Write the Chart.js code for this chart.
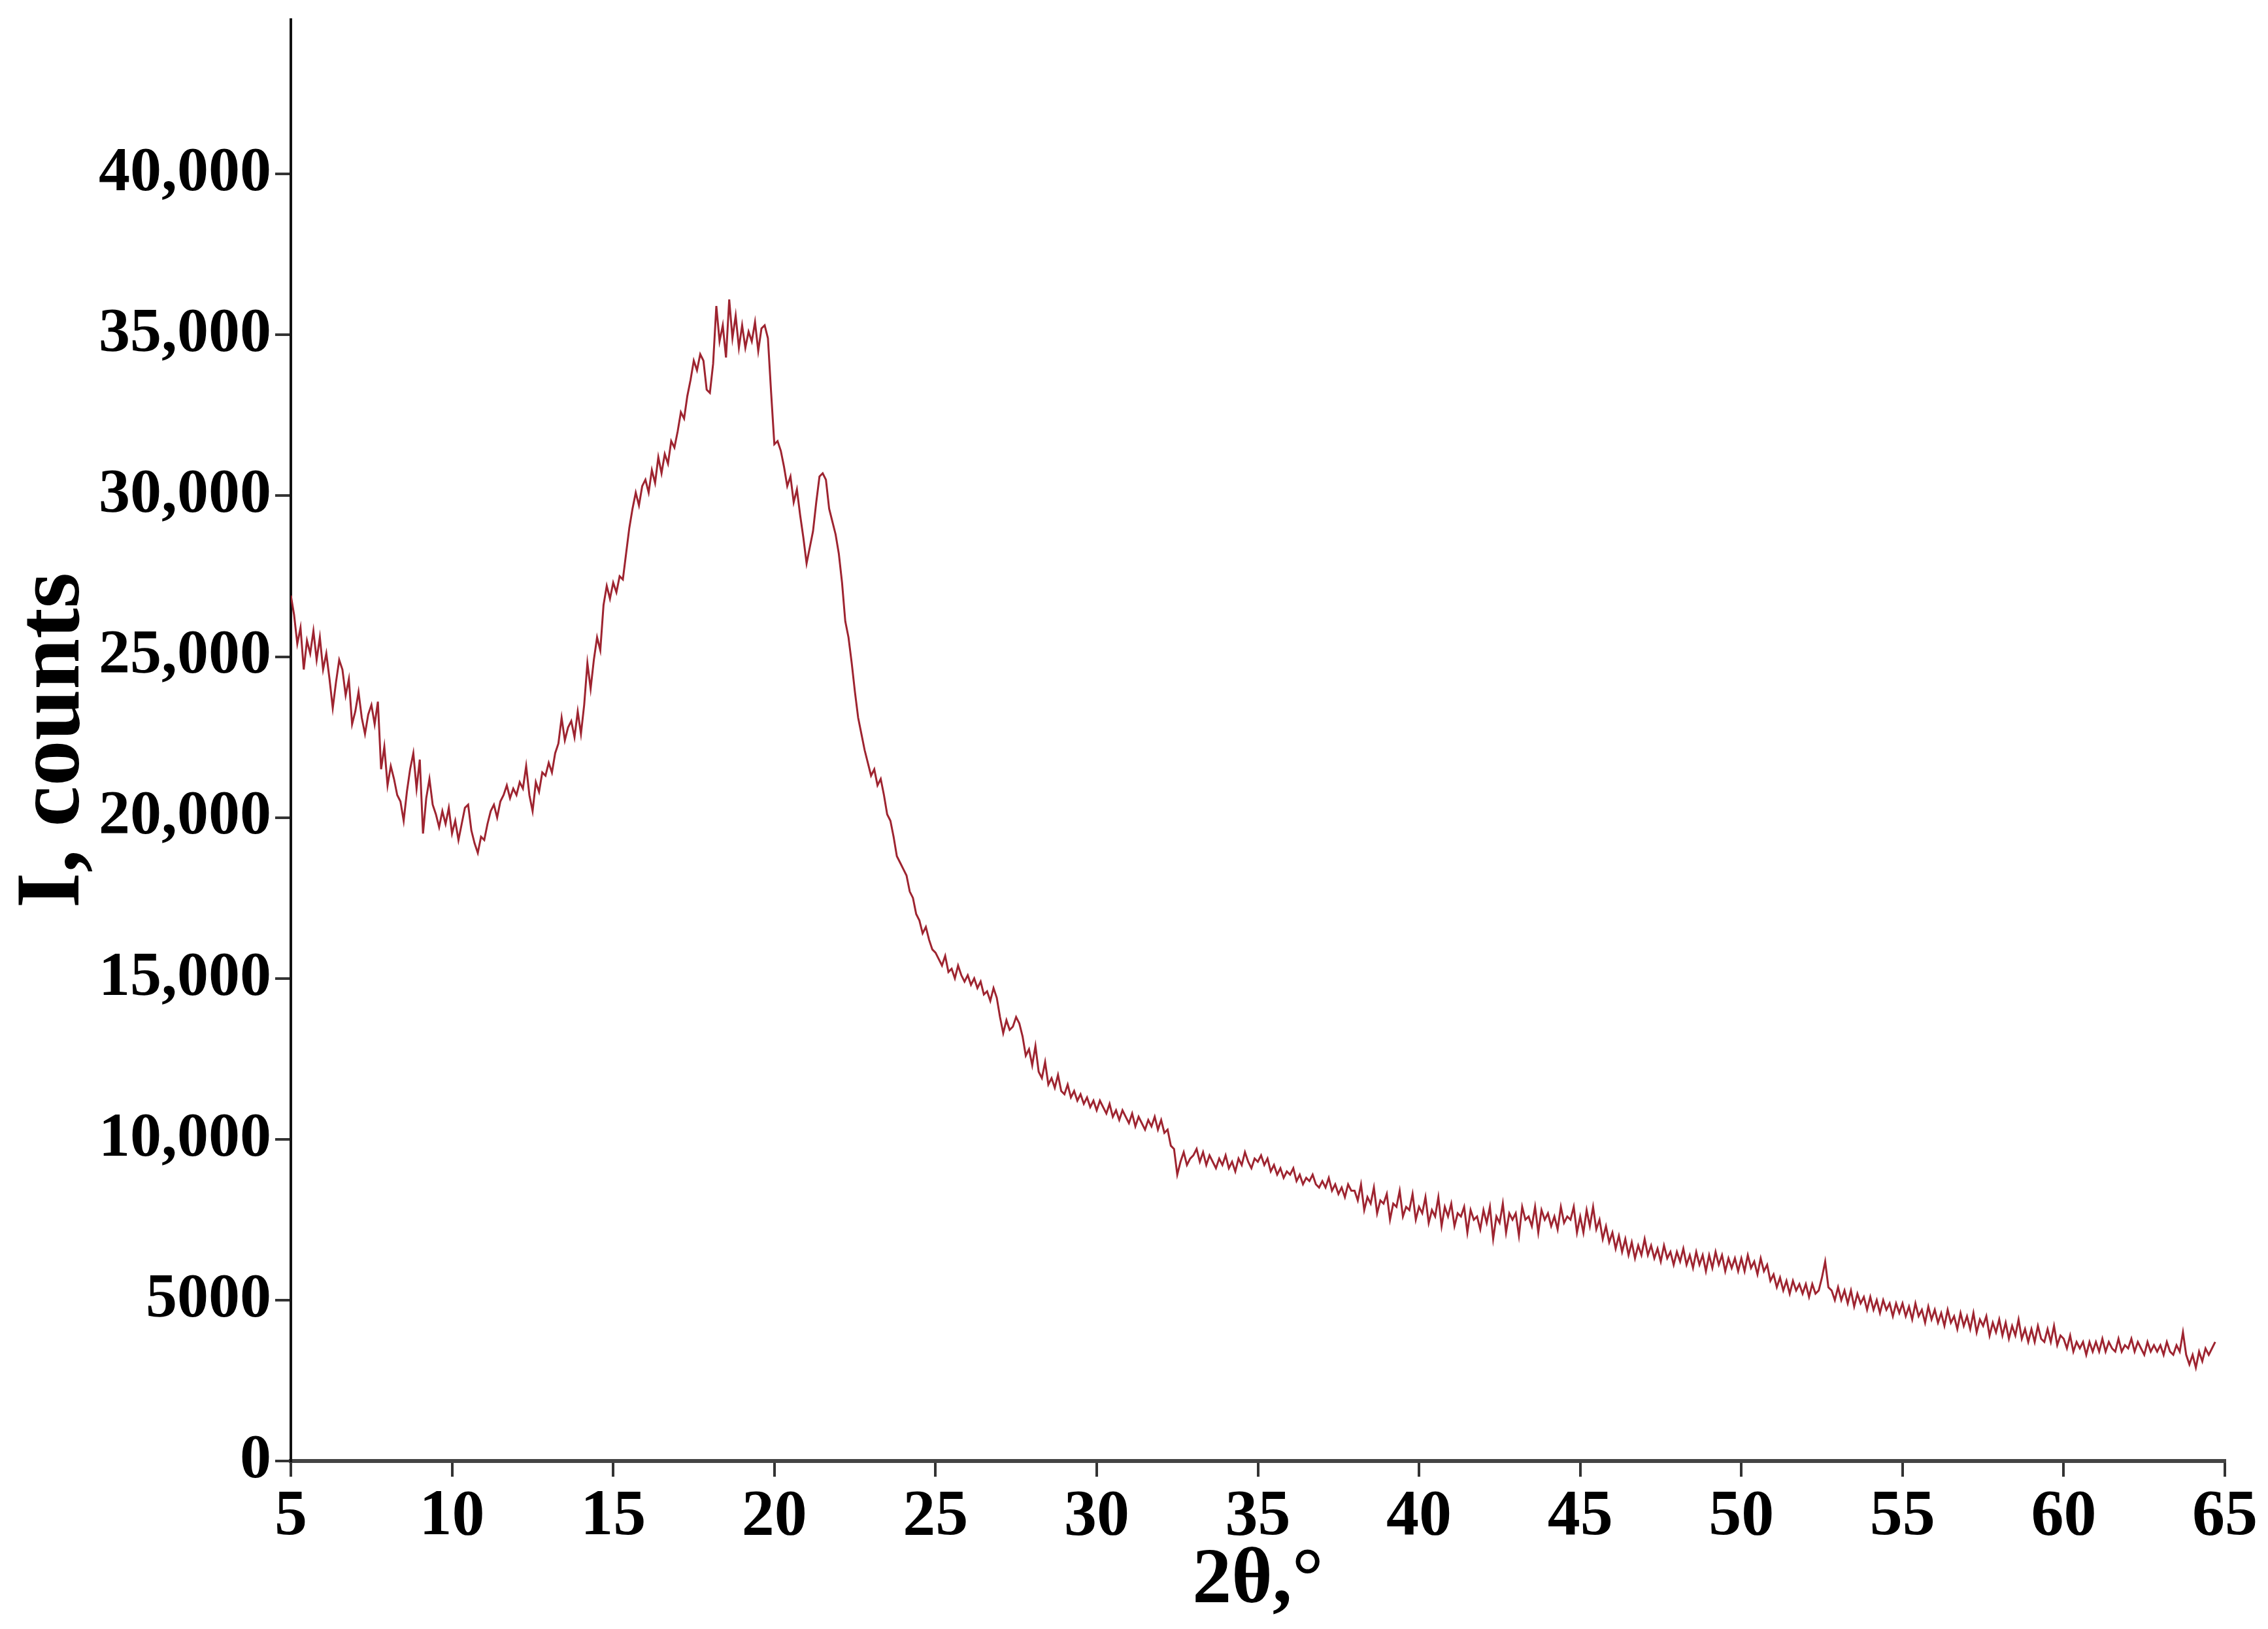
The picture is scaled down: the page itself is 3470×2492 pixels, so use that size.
<!DOCTYPE html>
<html>
<head>
<meta charset="utf-8">
<script src="https://cdn.jsdelivr.net/npm/chart.js@4/dist/chart.umd.min.js"></script>
<style>
  html, body { margin: 0; padding: 0; background: #ffffff; }
  #wrap { width: 3470px; height: 2492px; }
</style>
</head>
<body>
<div id="wrap"><canvas id="c" width="3470" height="2492"></canvas></div>
<script>
// ---- scan sampling (2θ, degrees) ----
const thetaStart = 5.0;
const thetaStep = 0.1;

// ---- intensity, counts (one value per 0.1°) ----
const i05to15 = [
  26900, 26300, 25400, 25900, 24600, 25500, 25100, 25800, 24900, 25600,
  24600, 25100, 24300, 23400, 24200, 24900, 24600, 23800, 24300, 22900,
  23300, 23900, 23100, 22600, 23200, 23500, 22900, 23600, 21500, 22200,
  21000, 21600, 21200, 20700, 20500, 19900, 20800, 21500, 22000, 20900,
  21800, 19500, 20600, 21200, 20400, 20100, 19700, 20200, 19800, 20300,
  19500, 19900, 19300, 19800, 20300, 20400, 19600, 19200, 18900, 19400,
  19300, 19800, 20200, 20400, 20000, 20500, 20700, 21000, 20600, 20900,
  20700, 21100, 20900, 21600, 20700, 20200, 21100, 20800, 21400, 21300,
  21700, 21400, 22000, 22300, 23100, 22400, 22800, 23000, 22500, 23300,
  22600, 23500, 24800, 24000, 24900, 25600, 25200, 26600, 27200, 26800
];
const i15to25 = [
  27300, 27000, 27500, 27400, 28200, 29000, 29600, 30100, 29700, 30300,
  30500, 30100, 30800, 30400, 31200, 30700, 31300, 31000, 31700, 31500,
  32000, 32600, 32400, 33100, 33600, 34200, 33900, 34400, 34200, 33300,
  33200, 34100, 35900, 34800, 35300, 34300, 36100, 34900, 35600, 34600,
  35300, 34600, 35100, 34800, 35400, 34500, 35200, 35300, 34900, 33200,
  31600, 31700, 31400, 30900, 30300, 30600, 29800, 30200, 29400, 28700,
  27900, 28400, 28900, 29800, 30600, 30700, 30500, 29600, 29200, 28800,
  28200, 27300, 26100, 25600, 24800, 23900, 23100, 22600, 22100, 21700,
  21300, 21500, 21000, 21200, 20700, 20100, 19900, 19400, 18800, 18600,
  18400, 18200, 17700, 17500, 17000, 16800, 16400, 16600, 16200, 15900
];
const i25to35 = [
  15800, 15600, 15400, 15700, 15200, 15300, 15000, 15400, 15100, 14900,
  15100, 14800, 15000, 14700, 14900, 14500, 14600, 14300, 14700, 14400,
  13800, 13300, 13700, 13400, 13500, 13800, 13600, 13200, 12600, 12800,
  12300, 12900, 12100, 11900, 12400, 11700, 11900, 11600, 12000, 11500,
  11400, 11700, 11300, 11500, 11200, 11400, 11100, 11300, 11000, 11200,
  10900, 11200, 11000, 10800, 11100, 10700, 10900, 10600, 10900, 10700,
  10500, 10800, 10400, 10700, 10500, 10300, 10600, 10400, 10700, 10300,
  10600, 10200, 10300, 9800, 9700, 8900, 9300, 9600, 9200, 9400,
  9500, 9700, 9300, 9600, 9200, 9500, 9300, 9100, 9400, 9200,
  9500, 9100, 9300, 9000, 9400, 9200, 9600, 9300, 9100, 9400
];
const i35to45 = [
  9300, 9500, 9200, 9400, 9000, 9200, 8900, 9100, 8800, 9000,
  8900, 9100, 8700, 8900, 8600, 8800, 8700, 8900, 8600, 8500,
  8700, 8500, 8800, 8400, 8600, 8300, 8500, 8200, 8600, 8400,
  8400, 8100, 8600, 7800, 8200, 8000, 8500, 7700, 8100, 8000,
  8300, 7500, 8000, 7900, 8400, 7600, 7900, 7800, 8300, 7500,
  7900, 7700, 8200, 7400, 7800, 7600, 8200, 7300, 7900, 7600,
  8000, 7300, 7700, 7600, 7900, 7100, 7800, 7500, 7600, 7200,
  7800, 7400, 7900, 6900, 7600, 7400, 8000, 7100, 7700, 7500,
  7700, 7000, 7900, 7500, 7600, 7300, 7900, 7100, 7800, 7500,
  7700, 7300, 7600, 7200, 7900, 7400, 7600, 7500, 7900, 7100
];
const i45to55 = [
  7600, 7100, 7800, 7300, 7900, 7200, 7500, 6900, 7300, 6800,
  7100, 6600, 7000, 6500, 6900, 6400, 6800, 6300, 6700, 6400,
  6900, 6400, 6700, 6300, 6600, 6200, 6700, 6300, 6500, 6100,
  6500, 6200, 6600, 6100, 6400, 6000, 6500, 6100, 6400, 5900,
  6400, 6000, 6500, 6100, 6400, 5900, 6300, 6000, 6300, 5900,
  6300, 5900, 6400, 6000, 6200, 5800, 6300, 5900, 6100, 5600,
  5800, 5400, 5700, 5300, 5600, 5200, 5600, 5300, 5500, 5200,
  5500, 5100, 5500, 5200, 5300, 5700, 6200, 5400, 5300, 5000,
  5400, 5000, 5300, 4900, 5300, 4800, 5200, 4900, 5100, 4700,
  5100, 4700, 5000, 4600, 5000, 4700, 4900, 4500, 4900, 4600
];
const i55to65 = [
  4900, 4500, 4800, 4400, 4900, 4500, 4700, 4300, 4800, 4400,
  4700, 4300, 4600, 4200, 4700, 4300, 4500, 4100, 4600, 4200,
  4500, 4100, 4600, 4000, 4400, 4200, 4500, 3900, 4300, 4000,
  4400, 3900, 4300, 3800, 4200, 3900, 4400, 3800, 4100, 3700,
  4100, 3700, 4200, 3800, 3700, 4100, 3700, 4200, 3600, 3900,
  3800, 3500, 3900, 3400, 3700, 3500, 3700, 3300, 3700, 3400,
  3700, 3400, 3800, 3400, 3700, 3500, 3400, 3800, 3400, 3600,
  3500, 3800, 3400, 3700, 3500, 3300, 3700, 3400, 3600, 3400,
  3600, 3300, 3700, 3400, 3300, 3600, 3400, 4000, 3300, 3000,
  3300, 2900, 3400, 3100, 3500, 3300, 3500, 3700
];

// ---- axes ----
const xMin = 5, xMax = 65;
const yMin = 0, yMax = 44800;
const xTickValues = [5, 10, 15, 20, 25, 30, 35, 40, 45, 50, 55, 60, 65];
const yTickValues = [0, 5000, 10000, 15000, 20000, 25000, 30000, 35000, 40000];
const yTickLabels = ['0', '5000', '10,000', '15,000', '20,000', '25,000', '30,000', '35,000', '40,000'];
const xTitle = '2\u03B8,\u00B0';
const yTitle = 'I, counts';

const intensity = [].concat(i05to15, i15to25, i25to35, i35to45, i45to55, i55to65);
const points = intensity.map((v, i) => ({ x: +(thetaStart + i * thetaStep).toFixed(2), y: v }));

const serif = "'Liberation Serif', 'Times New Roman', serif";

new Chart(document.getElementById('c'), {
  type: 'line',
  data: {
    datasets: [{
      data: points,
      borderColor: '#9e2430',
      borderWidth: 3,
      pointRadius: 0,
      tension: 0,
      fill: false
    }]
  },
  options: {
    responsive: false,
    animation: false,
    devicePixelRatio: 1,
    layout: { padding: { left: 0, right: 66, top: 30, bottom: 0 } },
    plugins: { legend: { display: false }, tooltip: { enabled: false } },
    scales: {
      x: {
        type: 'linear',
        min: xMin, max: xMax,
        afterBuildTicks: (s) => { s.ticks = xTickValues.map(v => ({ value: v })); },
        afterFit: (s) => { s.height = 257; s.paddingLeft = 0; s.paddingRight = 0; },
        grid: { drawOnChartArea: false, drawTicks: true, tickLength: 24, color: '#333', lineWidth: 4 },
        border: { display: true, color: '#444', width: 6 },
        ticks: {
          color: '#000', padding: 2, maxRotation: 0, autoSkip: false,
          font: { family: serif, weight: 'bold', size: 100 },
          callback: (v) => String(v)
        },
        title: {
          display: true, text: xTitle, color: '#000',
          font: { family: serif, weight: 'bold', size: 120 },
          padding: { top: 0, bottom: 0 }
        }
      },
      y: {
        type: 'linear',
        min: yMin, max: yMax,
        afterBuildTicks: (s) => { s.ticks = yTickValues.map(v => ({ value: v })); },
        afterFit: (s) => { s.width = 445; s.paddingTop = 0; s.paddingBottom = 0; },
        grid: { drawOnChartArea: false, drawTicks: true, tickLength: 24, color: '#333', lineWidth: 4 },
        border: { display: true, color: '#111', width: 4 },
        ticks: {
          color: '#000', padding: 6, autoSkip: false,
          font: { family: serif, weight: 'bold', size: 96 },
          callback: (v) => { const k = yTickValues.indexOf(v); return k >= 0 ? yTickLabels[k] : ''; }
        },
        title: {
          display: true, text: yTitle, color: '#000',
          font: { family: serif, weight: 'bold', size: 140 },
          padding: { top: 0, bottom: 0 }
        }
      }
    }
  }
});
</script>
</body>
</html>
